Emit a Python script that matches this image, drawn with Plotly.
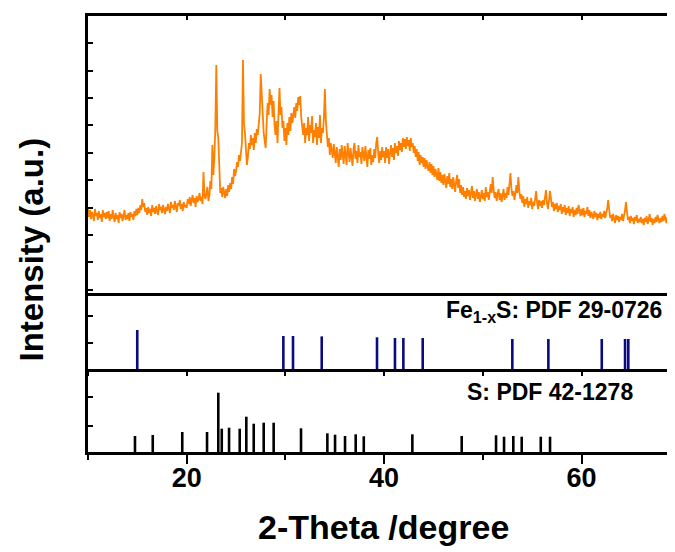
import numpy as np
import plotly.graph_objects as go

# ---------------- data ----------------
two_theta_start = 10.0
two_theta_step = 0.1
intensity = [
    86, 76, 83, 74, 81, 78, 72, 84, 77, 80, 73, 82, 75, 79, 71, 83, 76, 80, 74, 81,
    75, 82, 72, 79, 74, 83, 76, 71, 80, 74, 78, 70, 81, 75, 79, 72, 77, 83, 73, 78,
    74, 80, 72, 81, 76, 79, 73, 82, 77, 84, 78, 85, 80, 88, 83, 94, 86, 90, 81, 85,
    78, 86, 80, 84, 77, 88, 81, 85, 79, 87, 82, 78, 89, 83, 86, 80, 88, 84, 79, 86,
    82, 89, 84, 80, 91, 85, 88, 83, 92, 86, 81, 90, 87, 93, 84, 89, 82, 91, 86, 88,
    85, 94, 89, 96, 87, 93, 98, 90, 95, 86, 97, 91, 94, 100, 92, 96, 89, 121, 98, 94,
    100, 106, 92, 98, 112, 104, 148, 118, 135, 165, 228, 162, 155, 122, 100, 105, 96, 106, 101, 95,
    104, 97, 108, 101, 110, 104, 116, 109, 124, 117, 122, 131, 126, 138, 132, 145, 150, 233, 170, 160,
    142, 128, 136, 150, 144, 158, 148, 155, 143, 160, 150, 164, 158, 170, 180, 219, 195, 178, 160, 152,
    145, 170, 190, 178, 204, 188, 198, 176, 192, 168, 158, 172, 150, 180, 205, 178, 186, 165, 172, 152,
    165, 148, 170, 158, 176, 162, 180, 170, 178, 186, 175, 190, 182, 196, 188, 197, 176, 168, 158, 170,
    150, 165, 158, 176, 152, 168, 160, 177, 150, 163, 156, 170, 148, 166, 155, 178, 150, 165, 160, 175,
    204, 172, 158, 146, 155, 138, 150, 142, 135, 149, 140, 130, 146, 136, 126, 144, 133, 148, 137, 129,
    147, 135, 128, 150, 140, 131, 145, 138, 127, 144, 150, 134, 142, 130, 148, 136, 141, 129, 146, 138,
    132, 147, 136, 126, 143, 134, 145, 128, 138, 131, 144, 135, 150, 156, 140, 130, 142, 133, 146, 136,
    142, 130, 146, 135, 144, 129, 140, 148, 136, 145, 133, 150, 140, 147, 137, 152, 143, 150, 141, 155,
    146, 154, 144, 156, 147, 153, 142, 155, 146, 150, 140, 147, 136, 144, 132, 141, 128, 138, 130, 136,
    126, 135, 124, 133, 127, 122, 131, 120, 129, 118, 127, 116, 124, 119, 113, 125, 112, 121, 110, 118,
    108, 119, 112, 105, 117, 109, 120, 106, 114, 104, 116, 108, 101, 112, 118, 105, 114, 100, 108, 98,
    106, 96, 102, 94, 105, 97, 103, 93, 100, 107, 95, 102, 92, 99, 104, 94, 101, 91, 98, 103,
    94, 100, 92, 106, 96, 101, 93, 104, 109, 100, 116, 103, 95, 101, 92, 99, 104, 93, 100, 91,
    98, 104, 93, 100, 95, 106, 98, 108, 120, 104, 97, 102, 93, 99, 108, 100, 116, 102, 94, 99,
    90, 97, 86, 94, 89, 96, 85, 92, 88, 95, 84, 91, 87, 94, 102, 90, 84, 93, 87, 92,
    85, 93, 88, 96, 103, 90, 84, 92, 102, 95, 86, 91, 82, 89, 84, 90, 81, 87, 83, 89,
    79, 86, 81, 88, 78, 85, 80, 87, 77, 84, 80, 86, 76, 83, 78, 85, 79, 88, 82, 77,
    84, 78, 85, 76, 82, 79, 86, 77, 83, 75, 81, 78, 74, 82, 76, 80, 73, 79, 75, 81,
    74, 79, 76, 82, 75, 80, 84, 93, 80, 75, 78, 72, 79, 74, 70, 78, 73, 77, 71, 76,
    73, 79, 72, 77, 82, 91, 78, 73, 76, 70, 77, 72, 75, 69, 76, 72, 78, 70, 74, 71,
    76, 70, 74, 68, 75, 71, 77, 69, 73, 79, 71, 75, 68, 74, 70, 76, 71, 78, 73, 70,
    75, 71, 77, 72, 79, 74, 70, 76, 73, 79, 75, 81, 74, 78, 72, 77, 74, 80, 75, 78,
]
two_theta = [two_theta_start + two_theta_step * i for i in range(len(intensity))]

fe_pos = [14.99, 29.79, 30.77, 33.68, 39.28, 41.10, 41.95, 43.91,
          52.99, 56.64, 62.05, 64.41, 64.74]
fe_int = [39, 33, 33, 32.6, 31.7, 31, 31, 31, 30, 30, 30, 30, 30]

s_pos = [14.76, 16.56, 19.55, 22.06, 23.20, 23.55, 24.29, 25.37, 26.04,
         26.79, 27.80, 28.81, 31.58, 34.25, 35.03, 36.04, 37.12, 37.94,
         42.86, 47.86, 51.34, 52.15, 53.09, 53.94, 55.87, 56.81]
s_int = [16, 17, 20, 20, 59.3, 23.3, 24.3, 23.3, 35.3, 28.3, 29.3, 29.3,
         23.7, 18.7, 17.3, 16, 17.7, 15.7, 17.7, 16, 16.7, 15.3, 16,
         15.3, 15.3, 15.3]

fe_label = "Fe<sub>1-x</sub>S: PDF 29-0726"
s_label = "S: PDF 42-1278"
x_title = "2-Theta /degree"
y_title = "Intensity (a.u.)"
x_tick_vals = [20, 40, 60]

# ---------------- helpers ----------------
def sticks(pos, hts):
    xs, ys = [], []
    for p, h in zip(pos, hts):
        xs += [p, p, None]
        ys += [0, h, None]
    return xs, ys

FONT = "Liberation Sans, Arial, Helvetica, sans-serif"
XR = [10, 69.47]

fig = go.Figure()
fig.add_trace(go.Scatter(x=two_theta, y=intensity, mode="lines",
                         line=dict(color="#FF8000", width=1.8),
                         xaxis="x", yaxis="y", showlegend=False))
fx, fy = sticks(fe_pos, fe_int)
fig.add_trace(go.Scatter(x=fx, y=fy, mode="lines",
                         line=dict(color="#0A0A80", width=2.6),
                         xaxis="x2", yaxis="y2", showlegend=False))
sx, sy = sticks(s_pos, s_int)
fig.add_trace(go.Scatter(x=sx, y=sy, mode="lines",
                         line=dict(color="black", width=2.6),
                         xaxis="x3", yaxis="y3", showlegend=False))

d_bot = [0, 83 / 436]
d_mid = [83 / 436, 159 / 436]
d_top = [159 / 436, 1]

common_x = dict(range=XR, showgrid=False, zeroline=False, showline=True,
                linecolor="black", linewidth=3)
common_y = dict(showgrid=False, zeroline=False, showline=True, linecolor="black",
                linewidth=3, ticks="inside", ticklen=5, tickwidth=2,
                tickcolor="black", showticklabels=False, tickmode="linear")

# the page body has an 8 px default margin, so the figure is 8 px smaller
fig.update_layout(
    width=667, height=544,
    margin=dict(l=80, r=0, t=8, b=100),
    paper_bgcolor="white", plot_bgcolor="white",
    font=dict(family=FONT, color="black"),
    xaxis=dict(**common_x, anchor="y", side="top", mirror=True,
               ticks="inside", ticklen=4, tickwidth=2, tickcolor="black",
               tickmode="linear", tick0=0, dtick=10, showticklabels=False),
    yaxis=dict(**common_y, domain=d_top, anchor="x", range=[0, 277],
               tick0=3.3, dtick=27.4),
    xaxis2=dict(**common_x, anchor="y2", side="bottom",
                ticks="outside", ticklen=4, tickwidth=2, tickcolor="black",
                tickmode="linear", tick0=0, dtick=10, showticklabels=False),
    yaxis2=dict(**common_y, domain=d_mid, anchor="x2", range=[0, 76],
                tick0=25.7, dtick=27.3),
    xaxis3=dict(**common_x, anchor="y3", side="bottom",
                ticks="outside", ticklen=9, tickwidth=2, tickcolor="black",
                tickmode="array", tickvals=x_tick_vals,
                ticktext=[str(v) for v in x_tick_vals],
                ticklabelstandoff=-9,
                tickfont=dict(family=FONT, size=27, weight="bold"),
                minor=dict(ticks="outside", ticklen=5, tickwidth=2,
                           tickcolor="black", tickmode="array",
                           tickvals=[10, 30, 50])),
    yaxis3=dict(**common_y, domain=d_bot, anchor="x3", range=[0, 83],
                tick0=26.5, dtick=28.3),
)

fig.add_annotation(x=57.26, y=58, xref="x2", yref="y2", text=fe_label,
                   showarrow=False, xanchor="center", yanchor="middle",
                   font=dict(family=FONT, size=23, weight="bold", color="black"))
fig.add_annotation(x=56.81, y=60.5, xref="x3", yref="y3", text=s_label,
                   showarrow=False, xanchor="center", yanchor="middle",
                   font=dict(family=FONT, size=23, weight="bold", color="black"))
fig.add_annotation(x=(376 - 80) / 587, y=(444 - 519) / 436, xref="paper", yref="paper",
                   text=x_title, showarrow=False, xanchor="center", yanchor="middle",
                   font=dict(family=FONT, size=34, weight="bold", color="black"))
fig.add_annotation(x=(23 - 80) / 587, y=(444 - 241.5) / 436, xref="paper", yref="paper",
                   text=y_title, showarrow=False, textangle=-90,
                   xanchor="center", yanchor="middle",
                   font=dict(family=FONT, size=33, weight="bold", color="black"))

fig.write_html("out.html")
